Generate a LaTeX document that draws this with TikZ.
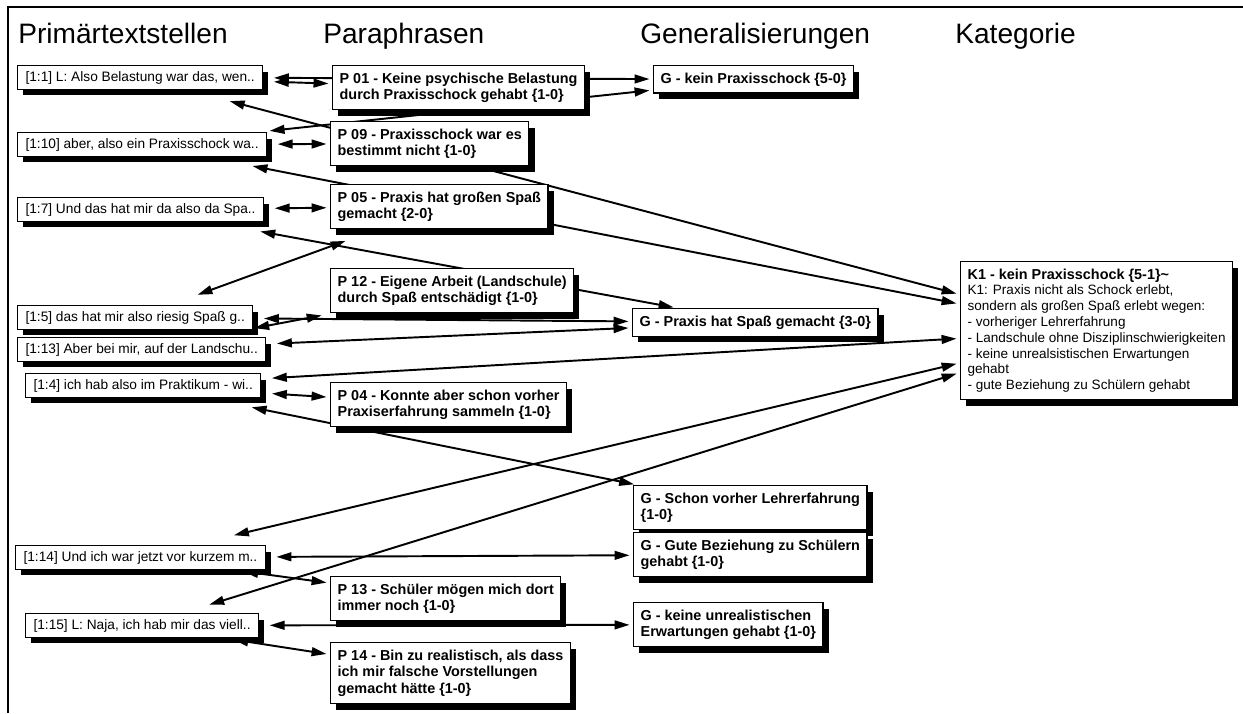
\documentclass[tikz,border=0pt]{standalone}
\usepackage{fontspec}
\setmainfont{Liberation Sans}
\usetikzlibrary{arrows.meta,shadows,backgrounds}
\tikzset{
	sh/.style={drop shadow={shadow xshift=3.2pt,shadow yshift=-3.4pt,fill=black,opacity=1}},
	hd/.style={anchor=base west,inner sep=0pt,font=\fontsize{16}{19}\selectfont},
	qt/.style={draw,fill=white,anchor=north west,line width=0.7pt,inner xsep=4.5pt,inner ysep=3pt,
		text height=5.8pt,text depth=1.7pt,font=\fontsize{7.8}{9}\selectfont,sh},
	pa/.style={draw,fill=white,anchor=north west,line width=0.7pt,inner xsep=4pt,inner ysep=4pt,
		align=left,font=\bfseries\fontsize{8.2}{9.5}\selectfont,sh},
	kt/.style={pa,font=\fontsize{7.7}{9}\selectfont},
	ln/.style={{Triangle[length=8.5pt,width=5pt]}-{Triangle[length=8.5pt,width=5pt]},
		line width=1.1pt,shorten <=6pt,shorten >=2pt},
}

\begin{document}
\begin{tikzpicture}[x=0.02cm,y=-0.02cm]
	\useasboundingbox (0,0) rectangle (1243,713);
	\draw[line width=1.2pt] (8,713) -- (8,7) -- (1243,7);

	\node[hd] (h1) at (18,44) {Primärtextstellen};
	\node[hd] (h2) at (323,44) {Paraphrasen};
	\node[hd] (h3) at (640,44) {Generalisierungen};
	\node[hd] (h4) at (955,44) {Kategorie};

	\node[qt] (L1) at (17,65) {[1:1] L: Also Belastung war das, wen..};
	\node[qt] (L2) at (17,132) {[1:10] aber, also ein Praxisschock wa..};
	\node[qt] (L3) at (17,197) {[1:7] Und das hat mir da also da Spa..};
	\node[qt] (L4) at (17,305) {[1:5] das hat mir also riesig Spaß g..};
	\node[qt] (L5) at (17,337) {[1:13] Aber bei mir, auf der Landschu..};
	\node[qt] (L6) at (25,373) {[1:4] ich hab also im Praktikum - wi..};
	\node[qt] (L7) at (15,545) {[1:14] Und ich war jetzt vor kurzem m..};
	\node[qt] (L8) at (25,613) {[1:15] L: Naja, ich hab mir das viell..};

	\node[pa] (P01) at (332,65) {P 01 - Keine psychische Belastung\\durch Praxisschock gehabt \{1-0\}};
	\node[pa] (P09) at (330,121) {P 09 - Praxisschock war es\\bestimmt nicht \{1-0\}};
	\node[pa] (P05) at (330,184) {P 05 - Praxis hat großen Spaß\\gemacht \{2-0\}};
	\node[pa] (P12) at (330,268) {P 12 - Eigene Arbeit (Landschule)\\durch Spaß entschädigt \{1-0\}};
	\node[pa] (P04) at (330,382) {P 04 - Konnte aber schon vorher\\Praxiserfahrung sammeln \{1-0\}};
	\node[pa] (P13) at (330,576) {P 13 - Schüler mögen mich dort\\immer noch \{1-0\}};
	\node[pa] (P14) at (330,642) {P 14 - Bin zu realistisch, als dass\\ich mir falsche Vorstellungen\\gemacht hätte \{1-0\}};

	\node[pa] (G1) at (653,65) {G - kein Praxisschock \{5-0\}};
	\node[pa] (G2) at (632,308) {G - Praxis hat Spaß gemacht \{3-0\}};
	\node[pa] (G3) at (633,485) {G - Schon vorher Lehrerfahrung\\\{1-0\}};
	\node[pa] (G4) at (633,532) {G - Gute Beziehung zu Schülern\\gehabt \{1-0\}};
	\node[pa] (G5) at (633,602) {G - keine unrealistischen\\Erwartungen gehabt \{1-0\}};

	\node[kt] (K1) at (960,261) {{\bfseries\fontsize{8.2}{9.5}\selectfont K1 - kein Praxisschock \{5-1\}\textasciitilde}\\K1: Praxis nicht als Schock erlebt,\\sondern als großen Spaß erlebt wegen:\\- vorheriger Lehrerfahrung\\- Landschule ohne Disziplinschwierigkeiten\\- keine unrealsistischen Erwartungen\\gehabt\\- gute Beziehung zu Schülern gehabt};

	\begin{pgfonlayer}{background}
		\fill[white] (0,0) rectangle (1243,713);
		\draw[ln] (L1) -- (P01);
		\draw[ln] (L1) -- (G1);
		\draw[ln,shorten <=25pt] (L1) -- (K1);
		\draw[ln] (L2) -- (P09);
		\draw[ln] (L2) -- (G1);
		\draw[ln,shorten <=27pt] (L2) -- (K1);
		\draw[ln] (L3) -- (P05);
		\draw[ln,shorten <=30pt] (L3) -- (G2);
		\draw[ln,shorten <=17pt,shorten >=19pt] (L4) -- (P05);
		\draw[ln] (L4) -- (G2);
		\draw[ln,shorten <=27pt,shorten >=6pt] (L5) -- (P12);
		\draw[ln] (L5) -- (G2);
		\draw[ln] (L6) -- (P04);
		\draw[ln] (L6) -- (K1);
		\draw[ln,shorten <=27pt] (L6) -- (G3);
		\draw[ln] (L7) -- (G4);
		\draw[ln] (L7) -- (P13);
		\draw[ln,shorten <=24pt] (L7) -- (K1);
		\draw[ln] (L8) -- (G5);
		\draw[ln] (L8) -- (P14);
		\draw[ln,shorten <=16pt] (L8) -- (K1);
	\end{pgfonlayer}
\end{tikzpicture}
\end{document}
